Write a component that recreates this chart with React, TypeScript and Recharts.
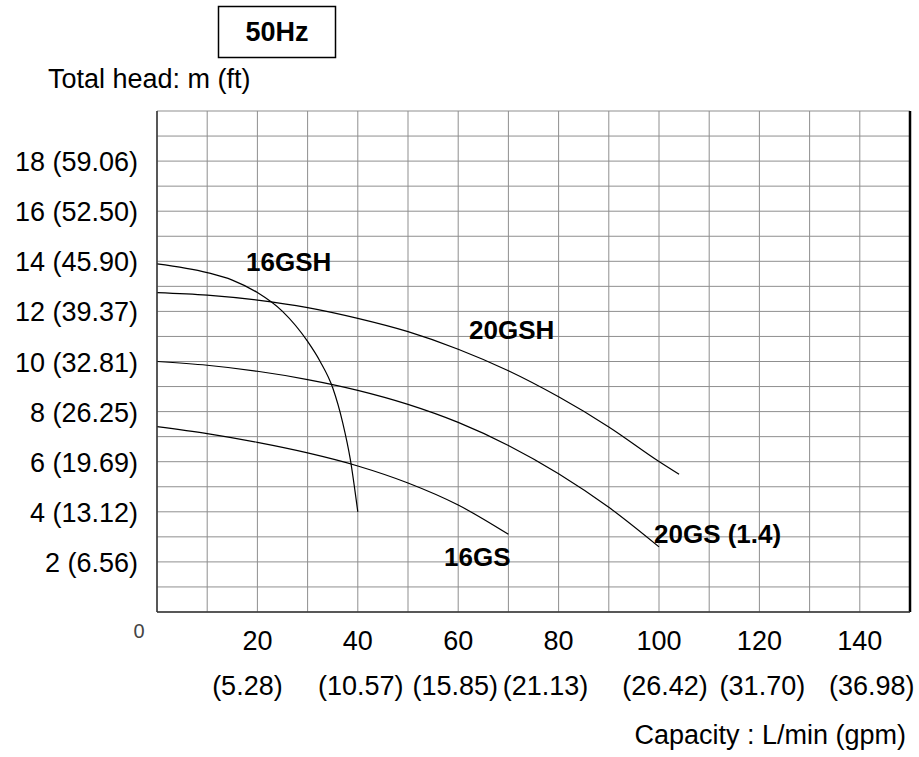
import { CartesianGrid, Line, LineChart, ReferenceLine, XAxis, YAxis } from "recharts";

// capacity (L/min) / total head (m)
const q16GSH = [0, 10, 15, 20, 25, 30, 32.5, 35, 37, 38.5, 40];
const h16GSH = [13.9, 13.55, 13.25, 12.75, 12.0, 10.8, 10.0, 8.95, 7.55, 6.1, 4.0];

const q20GSH = [0, 10, 20, 30, 40, 50, 60, 70, 80, 90, 100, 104];
const h20GSH = [12.75, 12.65, 12.45, 12.15, 11.72, 11.19, 10.49, 9.63, 8.59, 7.39, 6.01, 5.5];

const q20GS = [0, 10, 20, 30, 40, 50, 60, 70, 80, 90, 100];
const h20GS = [10.0, 9.85, 9.61, 9.28, 8.85, 8.29, 7.57, 6.65, 5.52, 4.18, 2.6];

const q16GS = [0, 10, 20, 30, 40, 50, 60, 70];
const h16GS = [7.4, 7.12, 6.77, 6.35, 5.83, 5.15, 4.27, 3.1];

const xGridTicks = [0, 10, 20, 30, 40, 50, 60, 70, 80, 90, 100, 110, 120, 130, 140, 150];
const xLabelTicks = [20, 40, 60, 80, 100, 120, 140];
const gpmLabels = ["(5.28)", "(10.57)", "(15.85)", "(21.13)", "(26.42)", "(31.70)", "(36.98)"];

const yGridTicks = [0, 1, 2, 3, 4, 5, 6, 7, 8, 9, 10, 11, 12, 13, 14, 15, 16, 17, 18, 19, 20];
const yLabelTicks = [2, 4, 6, 8, 10, 12, 14, 16, 18];
const ftLabels = ["(6.56)", "(13.12)", "(19.69)", "(26.25)", "(32.81)", "(39.37)", "(45.90)", "(52.50)", "(59.06)"];

const toPoints = (q: number[], h: number[]) => q.map((v, i) => ({ q: v, h: h[i] }));

const series = [
  { name: "16GSH", data: toPoints(q16GSH, h16GSH) },
  { name: "20GSH", data: toPoints(q20GSH, h20GSH) },
  { name: "20GS", data: toPoints(q20GS, h20GS) },
  { name: "16GS", data: toPoints(q16GS, h16GS) },
];

// small nudges so the gpm row sits like the printed sheet
const gpmNudge = [-10, 3, -3, -13, 6, 3, 12];

const FONT = '"Liberation Sans", Arial, sans-serif';

const XTick = (props: any) => {
  const { x, y, payload } = props;
  const v = payload.value;
  if (v === 0) {
    return (
      <text x={x - 18} y={y + 26} fontSize={20} fontFamily={FONT} fill="#444" textAnchor="middle">
        0
      </text>
    );
  }
  const i = xLabelTicks.indexOf(v);
  if (i < 0) return null;
  return (
    <g fontFamily={FONT} fontSize={27} fill="#000">
      <text x={x} y={y + 38} textAnchor="middle">{v}</text>
      <text x={x + gpmNudge[i]} y={y + 83} textAnchor="middle">{gpmLabels[i]}</text>
    </g>
  );
};

const YTick = (props: any) => {
  const { x, y, payload } = props;
  const i = yLabelTicks.indexOf(payload.value);
  if (i < 0) return null;
  return (
    <text x={x} y={y + 10} textAnchor="end" fontFamily={FONT} fontSize={27} fill="#000">
      {payload.value} {ftLabels[i]}
    </text>
  );
};

export default function App() {
  return (
    <div style={{ position: "absolute", left: 0, top: 0, width: 919, height: 757, background: "#fff" }}>
      <LineChart width={919} height={757} margin={{ top: 111, right: 9, bottom: 0, left: 0 }}>
        <CartesianGrid stroke="#8f8f8f" strokeWidth={1} />
        <XAxis
          type="number"
          dataKey="q"
          domain={[0, 150]}
          ticks={xGridTicks}
          interval={0}
          height={145}
          tickSize={0}
          tickMargin={0}
          tickLine={false}
          axisLine={{ stroke: "#333", strokeWidth: 1.5 }}
          tick={<XTick />}
        />
        <YAxis
          type="number"
          dataKey="h"
          domain={[0, 20]}
          ticks={yGridTicks}
          interval={0}
          width={157}
          tickSize={0}
          tickMargin={19}
          tickLine={false}
          axisLine={{ stroke: "#333", strokeWidth: 1.5 }}
          tick={<YTick />}
        />
        <ReferenceLine x={150} stroke="#000" strokeWidth={2.5} />
        {series.map((s) => (
          <Line
            key={s.name}
            data={s.data}
            dataKey="h"
            type="monotone"
            stroke="#000"
            strokeWidth={1.2}
            dot={false}
            isAnimationActive={false}
          />
        ))}
      </LineChart>
      <svg width={919} height={757} style={{ position: "absolute", left: 0, top: 0, pointerEvents: "none" }}>
        <g fontFamily={FONT} fill="#000">
          <rect x={218.5} y={6.5} width={117} height={51} fill="none" stroke="#000" strokeWidth={1.5} />
          <text x={277} y={41} fontSize={27} fontWeight="bold" textAnchor="middle">50Hz</text>
          <text x={48} y={88} fontSize={27}>Total head: m (ft)</text>
          <text x={906} y={744} fontSize={27} textAnchor="end">Capacity : L/min (gpm)</text>
          <g fontSize={26} fontWeight="bold">
            <text x={246} y={271}>16GSH</text>
            <text x={469} y={339}>20GSH</text>
            <text x={444} y={566}>16GS</text>
            <text x={654} y={543}>20GS (1.4)</text>
          </g>
        </g>
      </svg>
    </div>
  );
}
